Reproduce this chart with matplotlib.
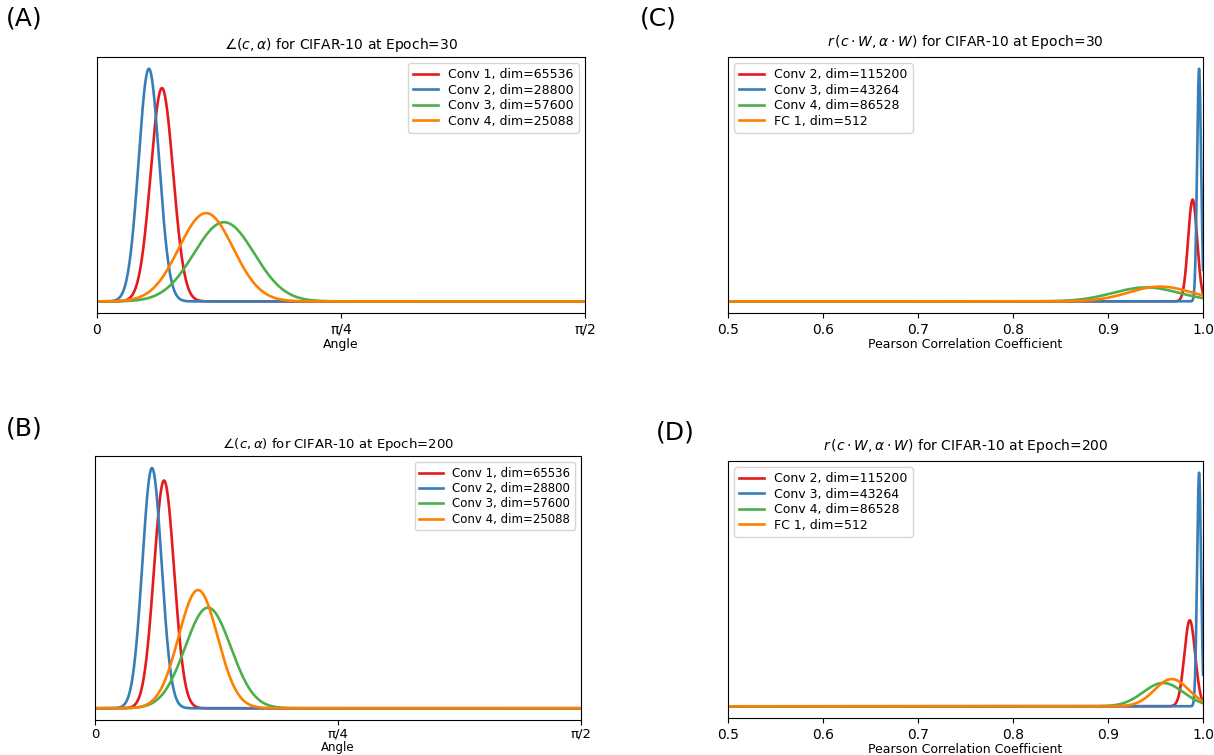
import numpy as np
import matplotlib
matplotlib.use("Agg")
import matplotlib.pyplot as plt

colors = ['#e41a1c', '#377eb8', '#4daf4a', '#ff7f00']

# angle distributions (radians): mean, std per layer
angle_labels = ['Conv 1, dim=65536', 'Conv 2, dim=28800',
                'Conv 3, dim=57600', 'Conv 4, dim=25088']
angle_mean_30 = [0.209, 0.167, 0.409, 0.351]
angle_std_30 = [0.036, 0.033, 0.097, 0.087]
angle_mean_200 = [0.223, 0.184, 0.365, 0.333]
angle_std_200 = [0.0327, 0.031, 0.074, 0.063]

# pearson correlation distributions: mean, std per layer
corr_labels = ['Conv 2, dim=115200', 'Conv 3, dim=43264',
               'Conv 4, dim=86528', 'FC 1, dim=512']
corr_mean_30 = [0.989, 0.9958, 0.940, 0.955]
corr_std_30 = [0.0048, 0.0021, 0.035, 0.033]
corr_mean_200 = [0.986, 0.9958, 0.958, 0.967]
corr_std_200 = [0.0057, 0.0021, 0.021, 0.018]


def density(x, m, s):
    return np.exp(-0.5 * ((x - m) / s) ** 2) / (s * np.sqrt(2 * np.pi))


fig = plt.figure(figsize=(12.14, 7.55), dpi=100)

axA = fig.add_axes([0.0799, 0.5854, 0.402, 0.339])
axC = fig.add_axes([0.5997, 0.5854, 0.3913, 0.339])
axB = fig.add_axes([0.0783, 0.046, 0.4003, 0.350])
axD = fig.add_axes([0.5997, 0.049, 0.3913, 0.3404])


def angle_panel(ax, means, stds, epoch, fs, pad=3.5, lpad=1):
    x = np.linspace(0, np.pi / 2, 3000)
    for lab, m, s, c in zip(angle_labels, means, stds, colors):
        ax.plot(x, density(x, m, s), color=c, lw=1.9, label=lab)
    ax.set_xlim(0, np.pi / 2)
    ax.set_xticks([0, np.pi / 4, np.pi / 2])
    ax.set_xticklabels(['0', 'π/4', 'π/2'], fontsize=fs)
    ax.tick_params(axis='x', pad=pad)
    ax.set_yticks([])
    ax.set_xlabel('Angle', fontsize=fs - 1, labelpad=lpad)
    ax.set_title(r'$\angle(c, \alpha)$ for CIFAR-10 at Epoch=%d' % epoch, fontsize=fs)
    ax.legend(loc='upper right', fontsize=fs - 1, handlelength=2, labelspacing=0.2)


def corr_panel(ax, means, stds, epoch, fs):
    x = np.linspace(0.5, 1.0, 8000)
    for lab, m, s, c in zip(corr_labels, means, stds, colors):
        ax.plot(x, density(x, m, s), color=c, lw=1.9, label=lab)
    ax.set_xlim(0.5, 1.0)
    ax.set_xticks([0.5, 0.6, 0.7, 0.8, 0.9, 1.0])
    ax.set_xticklabels(['0.5', '0.6', '0.7', '0.8', '0.9', '1.0'], fontsize=fs)
    ax.set_yticks([])
    ax.set_xlabel('Pearson Correlation Coefficient', fontsize=fs - 1, labelpad=1)
    ax.set_title(r'$r\,(c \cdot W, \alpha \cdot W)$ for CIFAR-10 at Epoch=%d' % epoch,
                 fontsize=fs, pad=8)
    ax.legend(loc='upper left', fontsize=fs - 1, handlelength=2, labelspacing=0.2)


angle_panel(axA, angle_mean_30, angle_std_30, 30, 10)
angle_panel(axB, angle_mean_200, angle_std_200, 200, 9.5, pad=2, lpad=0)
corr_panel(axC, corr_mean_30, corr_std_30, 30, 10)
corr_panel(axD, corr_mean_200, corr_std_200, 200, 10)

fig.text(0.005, 0.975, '(A)', fontsize=18, va='center')
fig.text(0.527, 0.975, '(C)', fontsize=18, va='center')
fig.text(0.005, 0.432, '(B)', fontsize=18, va='center')
fig.text(0.540, 0.427, '(D)', fontsize=18, va='center')

fig.savefig('out.png', dpi=100)
